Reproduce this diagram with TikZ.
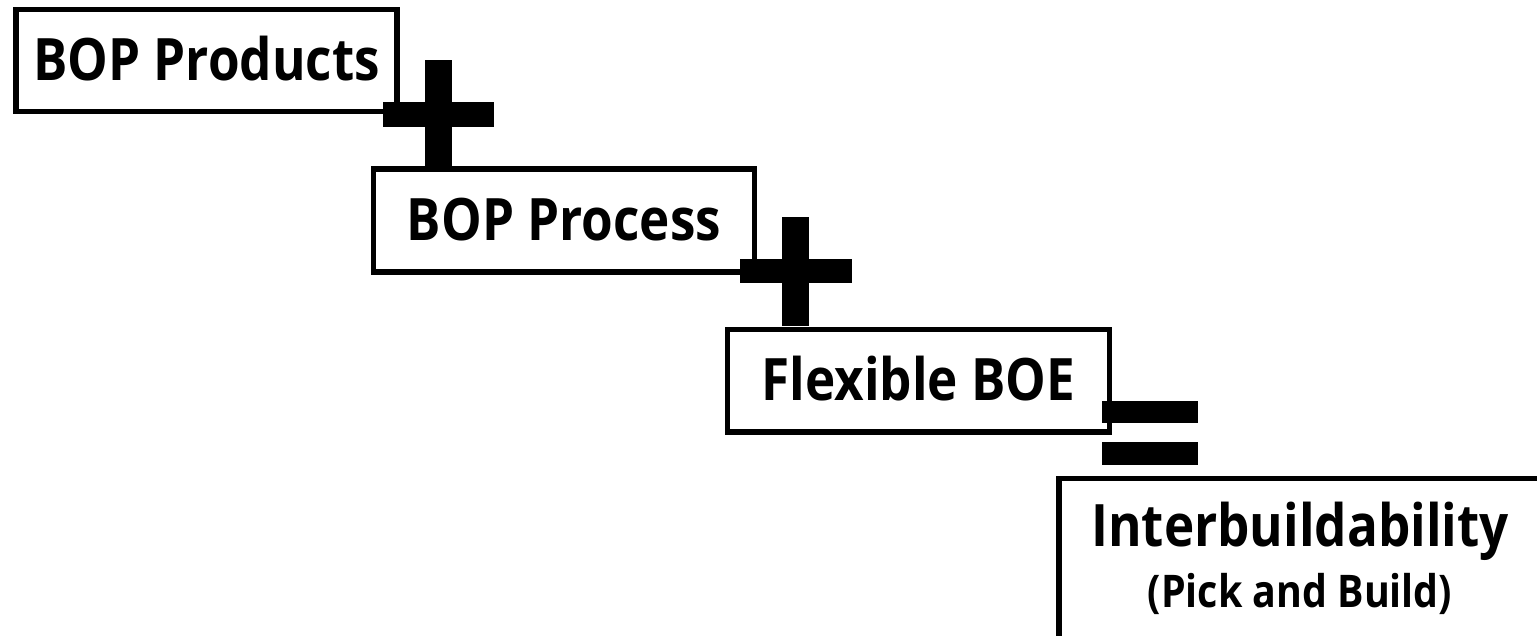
\documentclass[tikz,border=0pt]{standalone}
\usepackage{fontspec}
\setmainfont{Open Sans}[FakeStretch=0.875]
\begin{document}
\begin{tikzpicture}[x=1pt,y=-1pt,
  box/.style={draw=black, line width=5.5pt, fill=white, inner sep=0pt,
    font=\fontsize{58.5}{64}\selectfont\bfseries, text height=40pt, text depth=0pt},
  bigtext/.style={font=\fontsize{58.5}{64}\selectfont\bfseries, inner sep=0pt, anchor=base},
  subtext/.style={font=\fontsize{45}{50}\selectfont\bfseries, inner sep=0pt, anchor=base},
  bar/.style={fill=black}]
\useasboundingbox (0,0) rectangle (1537,636);
\clip (0,0) rectangle (1537,636);

% the four stacked boxes
\node[box, minimum width=381pt, minimum height=102pt] (prod) at (206.5,60.5) {BOP Products};
\node[box, minimum width=381pt, minimum height=103pt] (proc) at (564,220.5) {BOP Process};
\node[box, minimum width=382pt, minimum height=102.5pt] (boe) at (918.5,380.75) {Flexible BOE};
\node[box, anchor=north west, minimum width=488pt, minimum height=200pt] (inter) at (1056,475.5) {};
\node[bigtext] (intertitle) at (1300,546) {Interbuildability};
\node[subtext] (intersub) at (1300,607) {(Pick and Build)};

% first plus sign
\fill[bar] (425,60) rectangle (452,167);
\fill[bar] (383,102) rectangle (494,127);

% second plus sign
\fill[bar] (782,217) rectangle (809,326);
\fill[bar] (740,259) rectangle (852,283);

% equals sign
\fill[bar] (1102,401) rectangle (1198,423);
\fill[bar] (1102,442) rectangle (1198,465);
\end{tikzpicture}
\end{document}
